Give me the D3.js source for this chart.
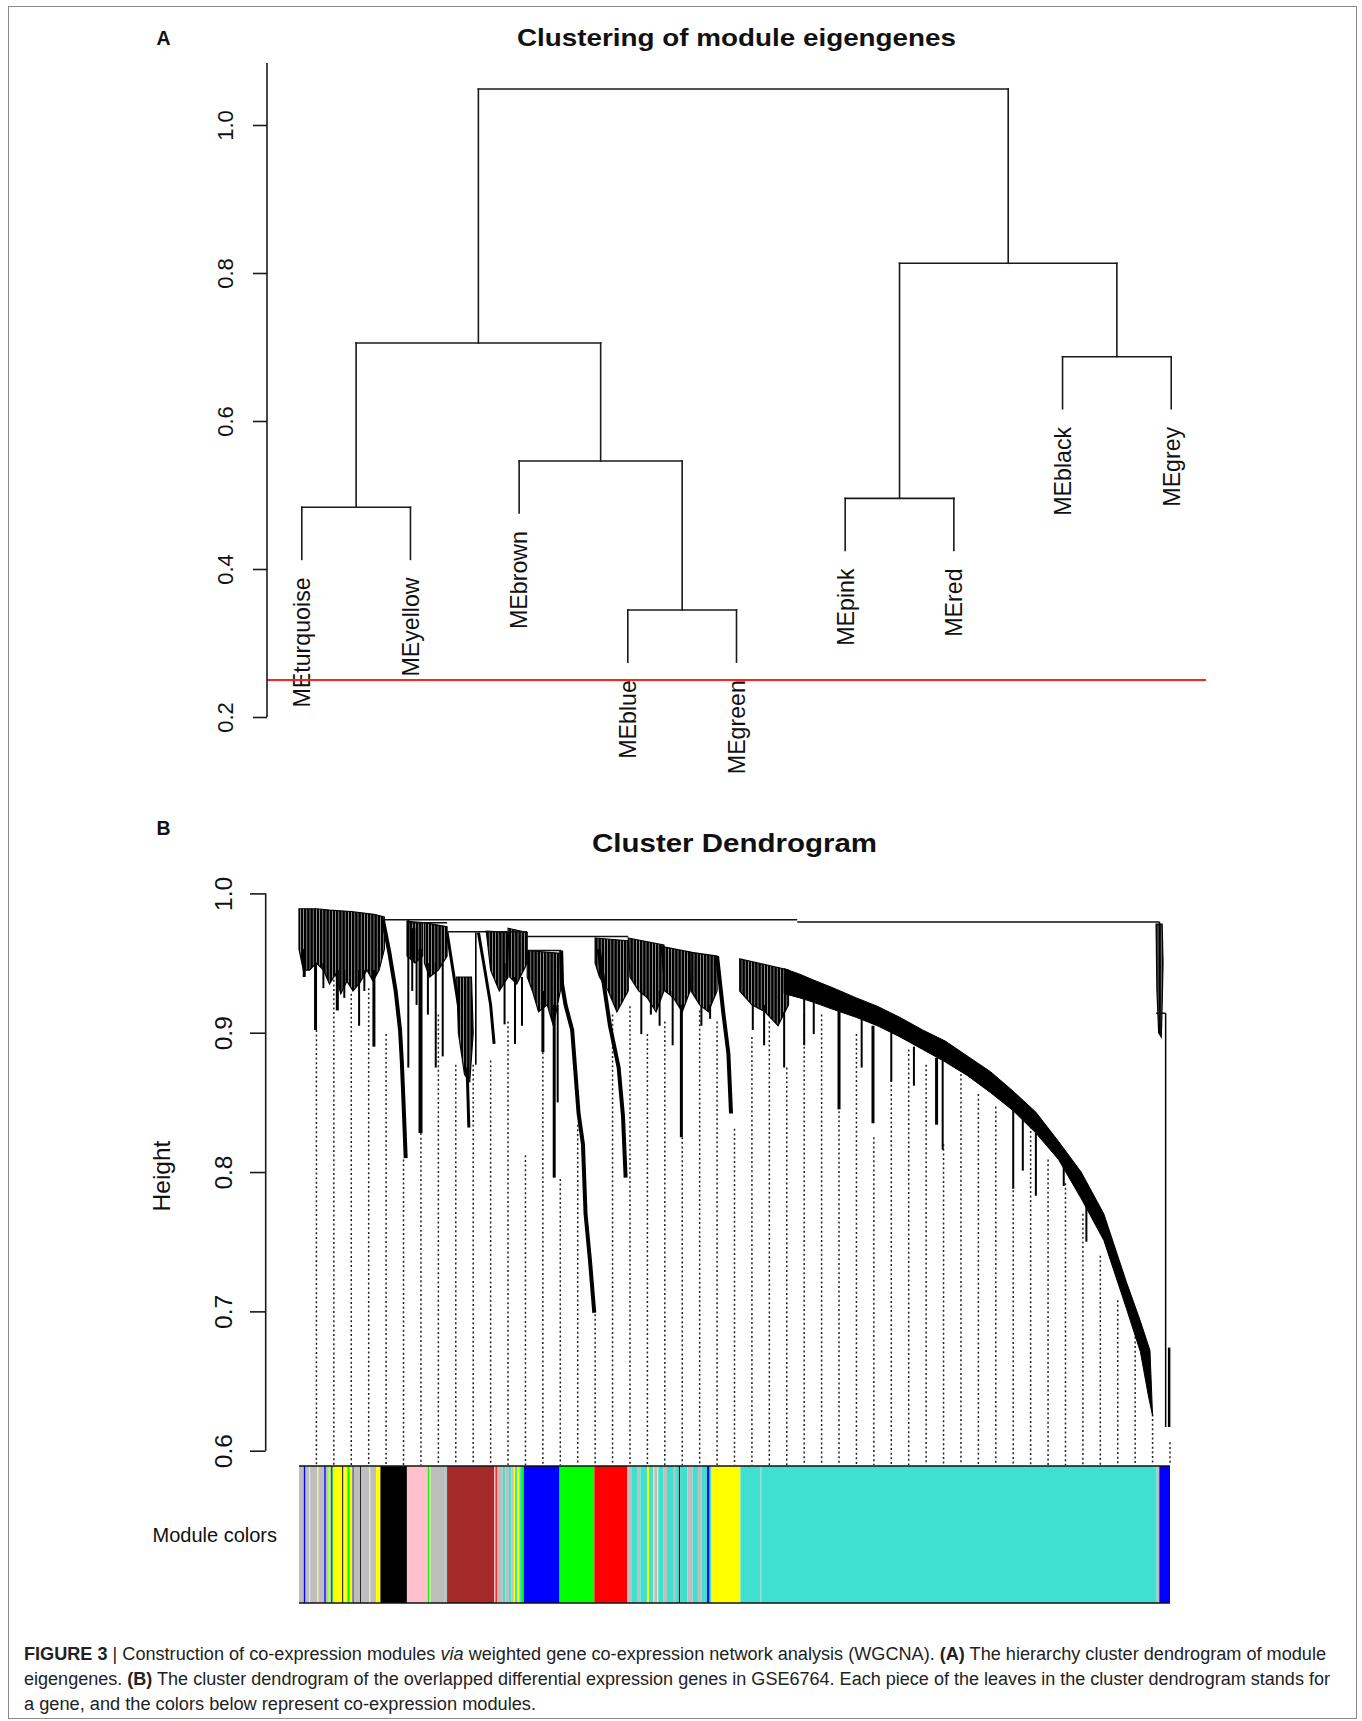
<!DOCTYPE html>
<html><head><meta charset="utf-8">
<script src="https://cdn.jsdelivr.net/npm/d3@7"></script>
<style>
body{margin:0;background:#fff;}
svg{display:block;}
text{font-family:"Liberation Sans",Arial,sans-serif;fill:#111;}
</style>
</head><body>
<svg id="c" width="1362" height="1721"></svg>
<script>
// ---------------- Panel A data ----------------
const meLabels = ["MEturquoise","MEyellow","MEbrown","MEblue","MEgreen","MEpink","MEred","MEblack","MEgrey"];
// hclust-style merges: negative = leaf number (plot order), positive = earlier merge
const meMerge = [[-4,-5],[-1,-2],[-6,-7],[-3,1],[-8,-9],[2,4],[3,5],[6,7]];
const meHeights = [0.3446,0.4834,0.4955,0.546,0.6869,0.7054,0.8131,1.0486];
const cutHeight = 0.25;
const yTicksA = [0.2,0.4,0.6,0.8,1.0];

// ---------------- Panel B data ----------------
const yTicksB = [0.6,0.7,0.8,0.9,1.0];
// guide (dotted) lines: top height of each of the 50 guides, left to right
const guideTops = [0.902,0.938,0.928,0.932,0.899,0.809,0.828,0.913,0.877,0.877,
  0.880,0.908,0.812,0.886,0.795,0.834,0.698,0.913,0.919,0.899,
  0.908,0.825,0.916,0.908,0.831,0.897,0.908,0.875,0.913,0.913,
  0.847,0.899,0.825,0.866,0.888,0.877,0.820,0.877,0.856,0.847,
  0.787,0.836,0.809,0.792,0.770,0.740,0.708,0.685,0.626,0.606];
// horizontal joins of the gene tree: [from, to, height] (leaf axis 0..1000)
const treeJoins = [[96,572,0.981],[572,988,0.9795],[125,170,0.979],[170,262,0.9725],[262,378,0.969],[262,301,0.959],[984,995,0.914]];
// dense sub-cluster outlines [leaf position, height]
const clusterShapes = [
  [[0,0.989],[20,0.989],[35,0.988],[60,0.987],[86,0.985],[98,0.983],[98,0.96],[92,0.945],[85,0.937],[78,0.945],[70,0.936],[62,0.93],[55,0.937],[48,0.928],[42,0.942],[35,0.935],[28,0.945],[20,0.95],[12,0.945],[5,0.945],[0,0.96]],
  [[124,0.98],[142,0.979],[142,0.955],[133,0.95],[124,0.955]],
  [[144,0.979],[170,0.976],[170,0.955],[160,0.945],[150,0.94],[144,0.95]],
  [[181,0.94],[198,0.94],[200,0.9],[196,0.865],[190,0.87],[183,0.9]],
  [[215,0.973],[240,0.972],[240,0.94],[230,0.93],[220,0.945]],
  [[240,0.975],[262,0.972],[262,0.95],[250,0.935],[242,0.94]],
  [[262,0.959],[300,0.957],[300,0.93],[292,0.905],[285,0.92],[275,0.915],[268,0.93],[262,0.94]],
  [[340,0.968],[378,0.966],[378,0.93],[365,0.915],[355,0.93],[345,0.94],[340,0.95]],
  [[378,0.968],[419,0.963],[419,0.93],[410,0.915],[400,0.925],[390,0.93],[380,0.94]],
  [[416,0.962],[449,0.958],[449,0.93],[440,0.915],[430,0.925],[420,0.93]],
  [[447,0.958],[480,0.955],[480,0.93],[470,0.915],[460,0.92],[450,0.93]],
  [[506,0.953],[562,0.945],[562,0.92],[550,0.905],[535,0.915],[520,0.92],[506,0.93]],
  [[984,0.978],[991,0.978],[992,0.95],[991,0.92],[990,0.897],[987,0.9],[985,0.93]]
];
// the long descending (turquoise) chain
const bandShape = [[557,0.946],[575,0.942],[590,0.938],[612,0.9325],[640,0.925],[664,0.919],[690,0.911],[716,0.902],[742,0.894],[768,0.883],[794,0.872],[820,0.858],[846,0.843],[872,0.822],[898,0.8],[924,0.77],[950,0.721],[966,0.693],[977,0.672],[980,0.625],[975,0.64],[966,0.671],[950,0.702],[924,0.751],[898,0.781],[872,0.809],[846,0.828],[820,0.844],[794,0.857],[768,0.869],[742,0.879],[716,0.888],[690,0.897],[664,0.905],[640,0.911],[612,0.917],[590,0.922],[575,0.925],[557,0.928]];
// hanging branches drawn as stems: points + width
const stems = [
  {w:4, p:[[96,0.982],[103.6,0.958],[111,0.93],[116,0.902],[118,0.88],[120,0.85],[122.5,0.81]]},
  {w:3, p:[[170,0.972],[178,0.94],[183,0.92]]},
  {w:3, p:[[193,0.875],[195,0.832]]},
  {w:3, p:[[206,0.972],[212,0.95],[220,0.92],[224,0.892]]},
  {w:4, p:[[301,0.959],[302,0.935],[306,0.92],[313.6,0.902],[321,0.842],[326,0.82],[329,0.77],[334,0.737],[339,0.699]]},
  {w:4, p:[[344,0.96],[357,0.905],[367,0.875],[372,0.84],[375,0.796]]},
  {w:4, p:[[480,0.955],[487,0.915],[493,0.885],[496,0.842]]},
  {w:1.5, p:[[988,0.9795],[988,0.978]]},
  {w:1.5, p:[[995,0.914],[995,0.617]]},
  {w:2.5, p:[[999,0.674],[999,0.617]]}
];
// thin spikes: [leaf position, top height, tip height, width px]
const spikes = [
  [6,0.96,0.94,3],[19,0.95,0.902,3],[28,0.95,0.932,2],[44,0.945,0.916,3],[52,0.945,0.925,2],[69,0.945,0.905,2],[75,0.945,0.93,2],[86,0.945,0.89,3],
  [125.5,0.981,0.875,2],[130,0.975,0.93,2],[135,0.975,0.92,2],[139.5,0.96,0.828,4],
  [148,0.95,0.913,2],[157,0.95,0.875,2],[165,0.95,0.883,2],[203,0.972,0.877,1.6],[236,0.95,0.906,2],
  [248,0.94,0.892,2],[256,0.94,0.905,2],[280,0.93,0.886,3],[293,0.92,0.796,3],[297,0.92,0.85,2],
  [393,0.93,0.899,2],[404,0.93,0.913,2],[414,0.93,0.905,2],[429,0.93,0.891,2],[439,0.92,0.825,3],
  [462,0.92,0.905,2],[472,0.92,0.91,2],[521,0.92,0.902,2],[534,0.92,0.891,2],[557,0.915,0.875,2],
  [580,0.925,0.891,2],[591,0.922,0.899,2],[620,0.916,0.845,3],[646,0.91,0.875,2],[659,0.905,0.835,3],
  [680,0.9,0.865,2],[706,0.89,0.862,2],[732,0.882,0.834,3],[739,0.88,0.816,2],
  [820,0.845,0.788,2],[831,0.84,0.801,2],[846,0.828,0.783,2],[878,0.805,0.79,2],[904,0.78,0.75,2]
];
// module colour strip: [from, to, colour]
const moduleSegs = [
  [0,5.5,"grey"],[5.5,7.5,"blue"],[7.5,11.5,"grey"],[11.5,12.8,"yellow"],[12.8,21,"grey"],[21,22.3,"yellow"],
  [22.3,29,"grey"],[29,30.8,"blue"],[30.8,33,"grey"],[33,34,"green"],[34,35.5,"yellow"],[35.5,37,"grey"],
  [37,38.4,"blue"],[38.4,39.6,"green"],[39.6,49.6,"yellow"],[49.6,50.8,"black"],[50.8,52,"grey"],
  [52,55.5,"yellow"],[55.5,58.3,"green"],[58.3,61.5,"yellow"],[61.5,62.8,"blue"],[62.8,70.2,"grey"],
  [70.2,71.4,"black"],[71.4,80.5,"grey"],[80.5,81.8,"yellow"],[81.8,88.5,"grey"],[88.5,93.5,"yellow"],
  [93.5,123.9,"black"],[123.9,147.8,"pink"],[147.8,149.4,"green"],[149.4,150.9,"yellow"],[150.9,165.5,"grey"],
  [165.5,167,"turquoise"],[167,170,"grey"],[170,224.3,"brown"],[224.3,225.6,"pink"],[225.6,227.2,"red"],
  [227.2,234,"grey"],[234,237,"turquoise"],[237,241,"grey"],[241,244,"turquoise"],[244,246.5,"grey"],
  [246.5,248,"yellow"],[248,251,"turquoise"],[251,253,"yellow"],[253,255,"turquoise"],[255,258,"green"],
  [258,299.2,"blue"],[299.2,339.1,"green"],[339.1,376.6,"red"],
  [376.6,382.3,"grey"],[382.3,388.1,"turquoise"],[388.1,391.9,"grey"],[391.9,399.5,"turquoise"],
  [399.5,401.8,"yellow"],[401.8,406.4,"turquoise"],[406.4,407.9,"yellow"],[407.9,411,"grey"],
  [411,412.5,"yellow"],[412.5,418.6,"turquoise"],[418.6,422.5,"grey"],[422.5,429.4,"turquoise"],
  [429.4,432,"grey"],[432,436.2,"turquoise"],[436.2,437.7,"black"],[437.7,446,"turquoise"],[446,452,"grey"],
  [452,458,"turquoise"],[458,462,"grey"],[462,468.4,"turquoise"],[468.4,471.4,"blue"],[471.4,473.6,"turquoise"],
  [473.6,506.8,"yellow"],[506.8,530,"turquoise"],[530,531.5,"grey"],[531.5,984.7,"turquoise"],
  [984.7,987.7,"grey"],[987.7,1000,"blue"]
];
const rColors = {grey:"#BEBEBE",blue:"#0000FF",yellow:"#FFFF00",green:"#00FF00",black:"#000000",
  pink:"#FFC0CB",brown:"#A52A2A",red:"#FF0000",turquoise:"#40E0D0"};

const captionLines = [
  [["FIGURE 3","b"],[" | Construction of co-expression modules ",""],["via","i"],[" weighted gene co-expression network analysis (WGCNA). ",""],["(A)","b"],[" The hierarchy cluster dendrogram of module",""]],
  [["eigengenes. ",""],["(B)","b"],[" The cluster dendrogram of the overlapped differential expression genes in GSE6764. Each piece of the leaves in the cluster dendrogram stands for",""]],
  [["a gene, and the colors below represent co-expression modules.",""]]
];

// ---------------- drawing ----------------
const svg = d3.select("#c");
svg.append("rect").attr("x",8.5).attr("y",6.5).attr("width",1348).attr("height",1712)
  .attr("fill","none").attr("stroke","#8a8a8a").attr("stroke-width",1);

const defs = svg.append("defs");
defs.append("pattern").attr("id","vl").attr("patternUnits","userSpaceOnUse")
  .attr("width",3.2).attr("height",6)
  .append("rect").attr("width",2.7).attr("height",6).attr("fill","#000");

// ===== Panel A =====
const xA = d3.scaleLinear().domain([0.68, 9.32]).range([267, 1206]);
const yA = d3.scaleLinear().domain([0.2, 1.0]).range([717, 125]);
const gA = svg.append("g");

svg.append("text").attr("x",156.5).attr("y",45).attr("font-size",19.5).attr("font-weight","bold").text("A");
svg.append("text").attr("x",517).attr("y",46).attr("font-size",24).attr("font-weight","bold")
  .attr("textLength",439).attr("lengthAdjust","spacingAndGlyphs").text("Clustering of module eigengenes");

const hang = 0.1*(d3.max(meHeights)-d3.min(meHeights));
const nodeX = [], leafEnd = {};
const segsA = [];
meMerge.forEach((m,i)=>{
  const h = meHeights[i];
  const kids = m.map(c => c < 0 ? {x:-c, h:h-hang, leaf:-c} : {x:nodeX[c-1], h:meHeights[c-1]});
  nodeX[i] = (kids[0].x + kids[1].x)/2;
  kids.forEach(k => { segsA.push([k.x,h,k.x,k.h]); if(k.leaf) leafEnd[k.leaf]=k.h; });
  segsA.push([kids[0].x,h,kids[1].x,h]);
});
gA.selectAll("line.d").data(segsA).join("line")
  .attr("x1",d=>xA(d[0])).attr("y1",d=>yA(d[1])).attr("x2",d=>xA(d[2])).attr("y2",d=>yA(d[3]))
  .attr("stroke","#1a1a1a").attr("stroke-width",1.6).attr("stroke-linecap","square");

gA.selectAll("text.lab").data(meLabels).join("text")
  .attr("transform",(d,i)=>`translate(${xA(i+1)},${yA(leafEnd[i+1])+18}) rotate(-90)`)
  .attr("text-anchor","end").attr("dy","0.36em").attr("font-size",23.2).text(d=>d);

gA.append("line").attr("x1",xA.range()[0]).attr("x2",xA.range()[1])
  .attr("y1",yA(cutHeight)).attr("y2",yA(cutHeight)).attr("stroke","#ff2020").attr("stroke-width",1.8);

const axA = gA.append("g").attr("transform","translate(267,0)")
  .call(d3.axisLeft(yA).tickValues(yTicksA).tickSize(14).tickSizeOuter(0).tickFormat(d3.format(".1f")));
axA.select(".domain").remove();
axA.selectAll(".tick line").attr("stroke","#1a1a1a").attr("stroke-width",1.6);
axA.selectAll(".tick text").attr("x",0).attr("dy","0.36em").attr("text-anchor","middle")
  .attr("transform","translate(-42,0) rotate(-90)").attr("font-size",22)
  .attr("font-family","'Liberation Sans',Arial,sans-serif").attr("fill","#111");
gA.append("line").attr("x1",267).attr("x2",267).attr("y1",yA(0.2)).attr("y2",63)
  .attr("stroke","#1a1a1a").attr("stroke-width",1.6);

// ===== Panel B =====
const xB = d3.scaleLinear().domain([0,1000]).range([299, 1170]);
const yB = d3.scaleLinear().domain([0.6,1.0]).range([1450.7, 893.4]);
const gB = svg.append("g");
const barTop = 1466, barBot = 1603;

svg.append("text").attr("x",156.5).attr("y",834.5).attr("font-size",19.5).attr("font-weight","bold").text("B");
svg.append("text").attr("x",592).attr("y",851.5).attr("font-size",26.5).attr("font-weight","bold")
  .attr("textLength",285).attr("lengthAdjust","spacingAndGlyphs").text("Cluster Dendrogram");

// guides
gB.selectAll("line.g").data(guideTops).join("line")
  .attr("x1",(d,i)=>xB((i+1)*20)).attr("x2",(d,i)=>xB((i+1)*20))
  .attr("y1",d=>yB(d)).attr("y2",barTop-1)
  .attr("stroke","#222").attr("stroke-width",1.5).attr("stroke-dasharray","2 2.6");

const lineGen = d3.line().x(d=>xB(d[0])).y(d=>yB(d[1]));
gB.selectAll("path.cl").data(clusterShapes).join("path")
  .attr("d",d=>lineGen(d)+"Z").attr("fill","url(#vl)").attr("stroke","#000").attr("stroke-width",1.2);
gB.append("path").attr("d",lineGen(bandShape)+"Z").attr("fill","#000").attr("stroke","#000").attr("stroke-width",1);
gB.selectAll("path.st").data(stems).join("path")
  .attr("d",d=>lineGen(d.p)).attr("fill","none").attr("stroke","#000").attr("stroke-width",d=>d.w);
gB.selectAll("rect.sp").data(spikes).join("rect")
  .attr("x",d=>xB(d[0])-d[3]/2).attr("width",d=>d[3])
  .attr("y",d=>yB(d[1])).attr("height",d=>yB(d[2])-yB(d[1])).attr("fill","#000");
gB.selectAll("line.j").data(treeJoins).join("line")
  .attr("x1",d=>xB(d[0])).attr("x2",d=>xB(d[1])).attr("y1",d=>yB(d[2])).attr("y2",d=>yB(d[2]))
  .attr("stroke","#111").attr("stroke-width",1.5);

const axB = gB.append("g").attr("transform","translate(265.7,0)")
  .call(d3.axisLeft(yB).tickValues(yTicksB).tickSize(15.7).tickSizeOuter(0).tickFormat(d3.format(".1f")));
axB.select(".domain").remove();
axB.selectAll(".tick line").attr("stroke","#1a1a1a").attr("stroke-width",1.6);
axB.selectAll(".tick text").attr("x",0).attr("dy","0.36em").attr("text-anchor","middle")
  .attr("transform","translate(-43,0) rotate(-90)").attr("font-size",24.5)
  .attr("font-family","'Liberation Sans',Arial,sans-serif").attr("fill","#111");
gB.append("line").attr("x1",265.7).attr("x2",265.7).attr("y1",yB(0.6)).attr("y2",yB(1.0))
  .attr("stroke","#1a1a1a").attr("stroke-width",1.6);
svg.append("text").attr("transform","translate(161,1176) rotate(-90)").attr("text-anchor","middle")
  .attr("dy","0.36em").attr("font-size",24.5).text("Height");

// colour strip
gB.selectAll("rect.m").data(moduleSegs).join("rect")
  .attr("x",d=>xB(d[0])).attr("width",d=>Math.max(0.5,xB(d[1])-xB(d[0])))
  .attr("y",barTop).attr("height",barBot-barTop).attr("fill",d=>rColors[d[2]]);
[barTop,barBot].forEach(y=>gB.append("line").attr("x1",xB(0)).attr("x2",xB(1000)).attr("y1",y).attr("y2",y)
  .attr("stroke","#111").attr("stroke-width",1.6));
svg.append("text").attr("x",277).attr("y",1542).attr("text-anchor","end").attr("font-size",20).text("Module colors");

// caption
const capY = [1660,1685,1710], capW = [1302,1306,512];
captionLines.forEach((ln,i)=>{
  const t = svg.append("text").attr("x",24).attr("y",capY[i]).attr("font-size",18).attr("fill","#222")
    .attr("textLength",capW[i]).attr("lengthAdjust","spacingAndGlyphs");
  ln.forEach(s=>{
    const sp = t.append("tspan").text(s[0]).attr("fill","#222");
    if(s[1]==="b") sp.attr("font-weight","bold");
    if(s[1]==="i") sp.attr("font-style","italic");
  });
});
</script>
</body></html>
